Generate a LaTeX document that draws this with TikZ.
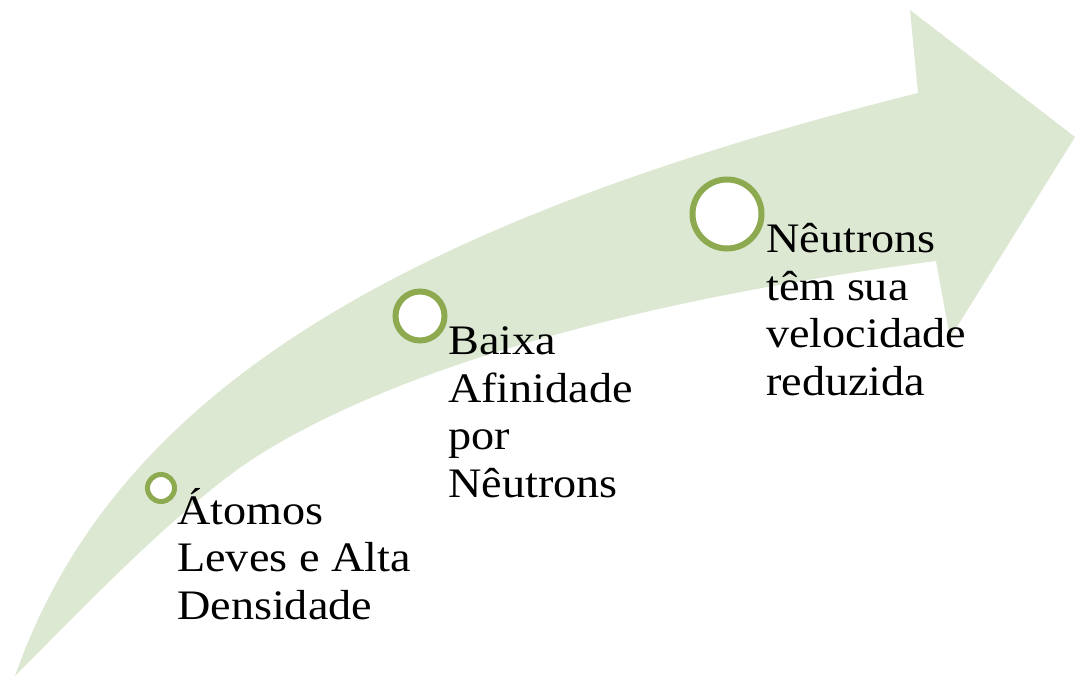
\documentclass[tikz,border=0pt]{standalone}
\usepackage{fontspec}
\setmainfont{Liberation Serif}[FakeStretch=1.1]
\definecolor{arrowfill}{RGB}{221,232,211}
\definecolor{ringcol}{RGB}{142,170,80}
\begin{document}
\begin{tikzpicture}[x=1pt,y=-1pt,
  ring/.style={circle,draw=ringcol,fill=white,inner sep=0pt},
  label/.style={anchor=base west,inner sep=0pt,align=left,font=\fontsize{42}{47.5}\selectfont}]
\useasboundingbox (0,0) rectangle (1075,676);
\fill[arrowfill] (15,676) .. controls (111,402) and (382,227) .. (918,93)
  -- (910,10) -- (1075,137) -- (950,338) -- (936,261)
  .. controls (642,299) and (408,365) .. (267,450)
  .. controls (187,498) and (85,606) .. (15,676) -- cycle;
\node[ring,line width=5pt,minimum size=27pt] (c1) at (161,488) {};
\node[ring,line width=6pt,minimum size=49pt] (c2) at (420,316) {};
\node[ring,line width=6pt,minimum size=69pt] (c3) at (727,214) {};
\node[label] (t1) at (177,619) {Átomos\\Leves e Alta\\Densidade};
\node[label] (t2) at (448,497) {Baixa\\Afinidade\\por\\Nêutrons};
\node[label] (t3) at (766,395) {Nêutrons\\têm sua\\velocidade\\reduzida};
\end{tikzpicture}
\end{document}
